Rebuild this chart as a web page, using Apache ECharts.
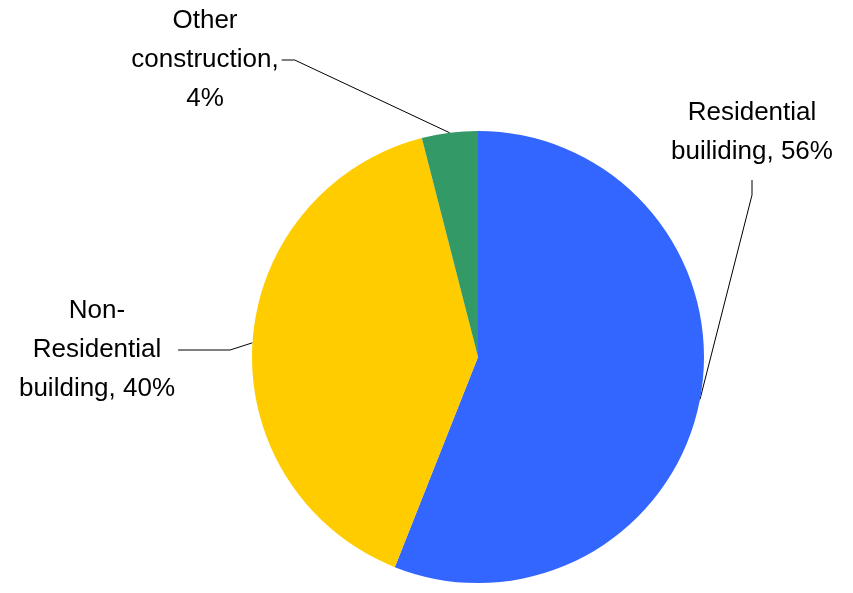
<!DOCTYPE html>
<html>
<head>
<meta charset="utf-8">
<script src="https://cdn.jsdelivr.net/npm/echarts@6/dist/echarts.min.js"></script>
<style>html,body{margin:0;padding:0;background:#fff}#c{width:853px;height:593px}</style>
</head>
<body>
<div id="c"></div>
<script>
const categories = ['Residential\nbuiliding', 'Non-\nResidential\nbuilding', 'Other\nconstruction'];
const values = [56, 40, 4];
const colors = ['#3366FF', '#FFCC00', '#339966'];

// label placement (layout only)
const labelCenters = [[752, 132], [97, 350], [205, 60]];

const chart = echarts.init(document.getElementById('c'));
chart.setOption({
  backgroundColor: '#fff',
  animation: false,
  series: [{
    type: 'pie',
    center: [478, 357],
    radius: 226,
    startAngle: 90,
    clockwise: true,
    data: categories.map((n, i) => ({ name: n, value: values[i], itemStyle: { color: colors[i] } })),
    label: {
      show: true,
      position: 'outside',
      overflow: 'none',
      fontFamily: 'Liberation Sans, Arial, sans-serif',
      fontSize: 26,
      lineHeight: 39,
      color: '#000',
      align: 'center',
      formatter: p => p.name + (p.dataIndex === 2 ? ',\n' : ', ') + p.value + '%'
    },
    labelLine: { show: true, lineStyle: { color: '#000', width: 1 }, length: 20, length2: 10 },
    labelLayout: function (p) {
      const c = labelCenters[p.dataIndex];
      const w = p.labelRect.width, h = p.labelRect.height;
      const a = p.labelLinePoints ? p.labelLinePoints[0] : null;
      let pts;
      if (a) {
        if (p.dataIndex === 0) {
          const end = [c[0], c[1] + h / 2 + 9];
          pts = [a, [end[0], end[1] + 15], end];
        } else if (p.dataIndex === 1) {
          const end = [c[0] + w / 2 + 3, c[1]];
          pts = [a, [end[0] + 52, end[1]], end];
        } else {
          const end = [c[0] + w / 2 + 3, c[1]];
          pts = [a, [end[0] + 13, end[1]], end];
        }
      }
      const r = { x: c[0], y: c[1], align: 'center', verticalAlign: 'middle' };
      if (pts) r.labelLinePoints = pts;
      return r;
    },
    emphasis: { disabled: true }
  }]
});
</script>
</body>
</html>
